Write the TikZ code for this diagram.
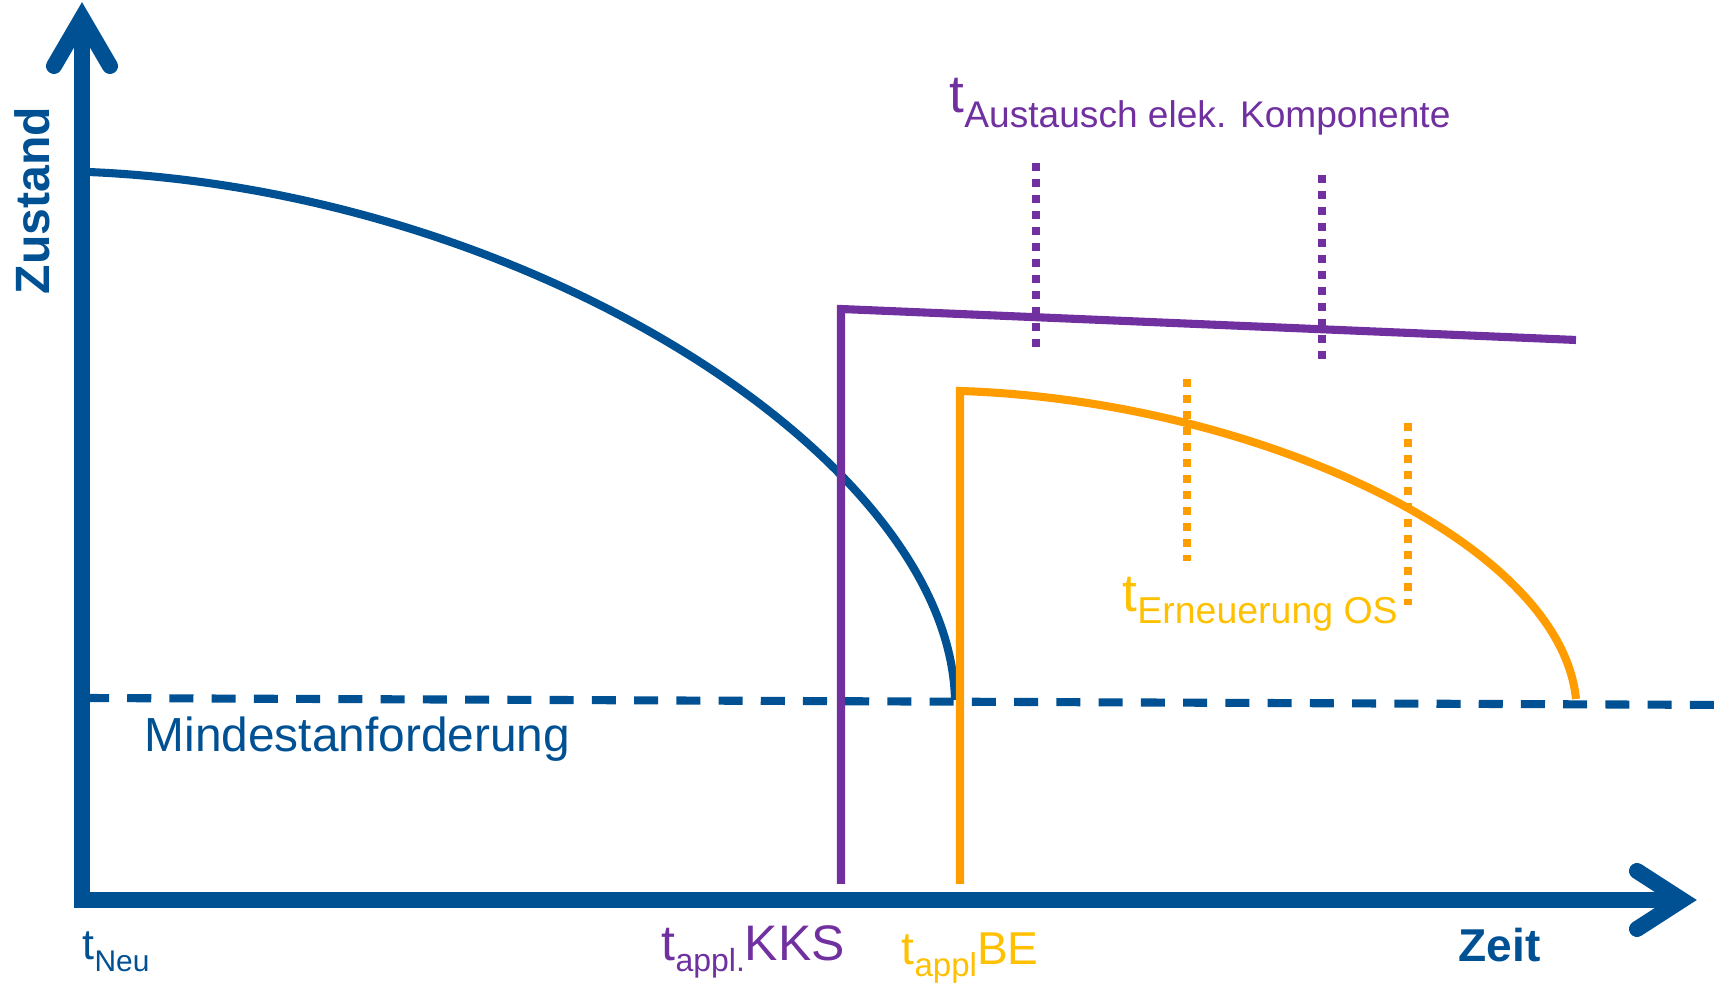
\documentclass[tikz,border=0pt]{standalone}
\usepackage{fontspec}
\setmainfont{Liberation Sans}
\definecolor{axisblue}{RGB}{0,81,147}
\definecolor{kkspurple}{RGB}{112,48,160}
\definecolor{beorange}{RGB}{255,156,0}
\definecolor{labelyellow}{RGB}{255,192,0}
% t with a lowered subscript: main size, subscript size, drop, subscript text
\newcommand\tlabel[4]{\fontsize{#1}{#1}\selectfont t\raisebox{-#3}{\fontsize{#2}{#2}\selectfont #4}}
\tikzset{
  axisline/.style={draw=axisblue, line width=4.55pt, line join=miter},
  axishead/.style={draw=axisblue, line width=4.55pt, line cap=round, line join=miter},
  curveline/.style={line width=2.3pt},
  limitline/.style={draw=axisblue, line width=2.3pt, dash pattern=on 6.83pt off 5.18pt},
  dotline/.style={line width=2.1pt, dash pattern=on 2.28pt off 2.28pt},
  lbl/.style={inner sep=0pt, anchor=base west},
}
\begin{document}
\begin{tikzpicture}[x=0.01cm, y=-0.01cm]
\useasboundingbox (0,0) rectangle (1732,986);

% axes
\coordinate (ytip) at (82,18);
\coordinate (origin) at (82,900);
\coordinate (xtip) at (1682,900);
\path[axisline] (ytip) -- (origin) -- (xtip);
\path[axishead] (54,66) -- (ytip) -- (110,66);
\path[axishead] (1637,871) -- (xtip) -- (1637,929);

% minimum requirement
\coordinate (minL) at (85,698);
\coordinate (minR) at (1732,705);
\path[limitline] (minL) -- (minR);

% condition of the original structure
\coordinate (neuStart) at (88,172);
\coordinate (neuEnd) at (955,700);
\draw[axisblue, curveline] (neuStart) .. controls (530,190) and (950,460) .. (neuEnd);

% cathodic corrosion protection
\coordinate (kksBottom) at (841,884);
\coordinate (kksTop) at (841,309);
\coordinate (kksEnd) at (1576,340);
\draw[kkspurple, curveline, line join=miter] (kksBottom) -- (kksTop) -- (kksEnd);
\draw[kkspurple, dotline] (1036,163) -- (1036,348);
\draw[kkspurple, dotline] (1322,175) -- (1322,359);

% coating
\coordinate (beBottom) at (960,884);
\coordinate (beTop) at (960,391);
\coordinate (beEnd) at (1576,699);
\draw[beorange, curveline, line join=miter] (beBottom) -- (beTop) .. controls (1250,400) and (1560,540) .. (beEnd);
\draw[beorange, dotline] (1187,379) -- (1187,561);
\draw[beorange, dotline] (1408,423) -- (1408,605);

% labels
\node[lbl, text=axisblue, font=\bfseries\fontsize{13.7pt}{14pt}\selectfont, rotate=90] (zustand) at (50,295) {Zustand};
\node[lbl, text=axisblue, font=\bfseries\fontsize{13.1pt}{14pt}\selectfont] (zeit) at (1458,962) {Zeit};
\node[lbl, text=axisblue, font=\fontsize{13.6pt}{14pt}\selectfont] (minlabel) at (144,752) {Mindestanforderung};
\node[lbl, text=axisblue] (tneu) at (82,960) {\tlabel{12.2pt}{8.5pt}{3.4pt}{Neu}};
\node[lbl, text=kkspurple] (tkks) at (661,961) {\tlabel{14.2pt}{9.1pt}{3.1pt}{appl.}KKS};
\node[lbl, text=labelyellow] (tbe) at (901,965) {\tlabel{13.1pt}{9.4pt}{3.4pt}{appl}BE};
\node[lbl, text=kkspurple] (taus) at (949,113) {\tlabel{15.1pt}{10.55pt}{4pt}{Austausch elek. Komponente}};
\node[lbl, text=labelyellow] (terneu) at (1122,612) {\tlabel{15.1pt}{10.65pt}{3.4pt}{Erneuerung OS}};
\end{tikzpicture}
\end{document}
